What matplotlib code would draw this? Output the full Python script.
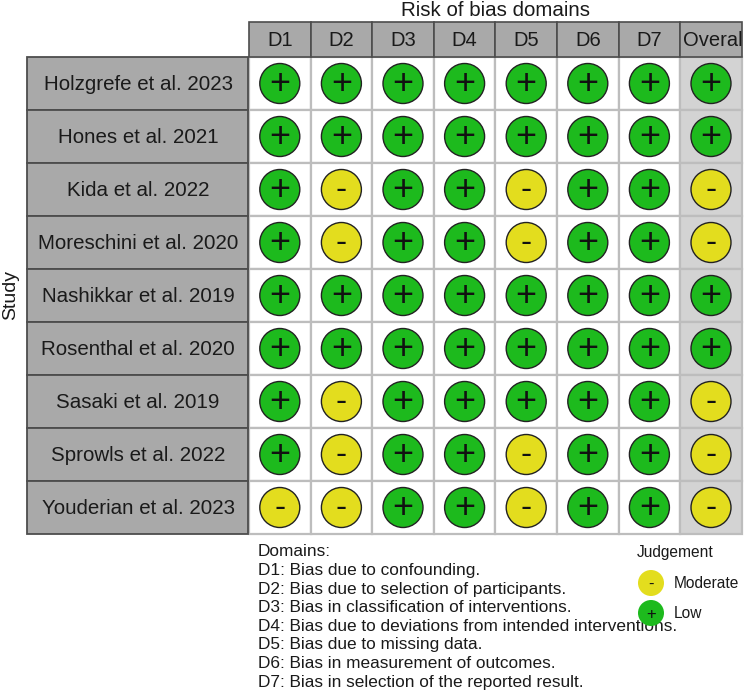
import matplotlib
matplotlib.use("Agg")
import matplotlib.pyplot as plt
from matplotlib.patches import Rectangle, Circle

plt.rcParams['font.family'] = ['Liberation Sans', 'DejaVu Sans']

# ---------------- data ----------------
studies = ["Holzgrefe et al. 2023", "Hones et al. 2021", "Kida et al. 2022",
           "Moreschini et al. 2020", "Nashikkar et al. 2019", "Rosenthal et al. 2020",
           "Sasaki et al. 2019", "Sprowls et al. 2022", "Youderian et al. 2023"]
domains = ["D1", "D2", "D3", "D4", "D5", "D6", "D7", "Overall"]
# L = Low, M = Moderate
judgements = [
    ["L", "L", "L", "L", "L", "L", "L", "L"],
    ["L", "L", "L", "L", "L", "L", "L", "L"],
    ["L", "M", "L", "L", "M", "L", "L", "M"],
    ["L", "M", "L", "L", "M", "L", "L", "M"],
    ["L", "L", "L", "L", "L", "L", "L", "L"],
    ["L", "L", "L", "L", "L", "L", "L", "L"],
    ["L", "M", "L", "L", "L", "L", "L", "M"],
    ["L", "M", "L", "L", "M", "L", "L", "M"],
    ["M", "M", "L", "L", "M", "L", "L", "M"],
]
domain_desc = ["Domains:",
               "D1: Bias due to confounding.",
               "D2: Bias due to selection of participants.",
               "D3: Bias in classification of interventions.",
               "D4: Bias due to deviations from intended interventions.",
               "D5: Bias due to missing data.",
               "D6: Bias in measurement of outcomes.",
               "D7: Bias in selection of the reported result."]
legend_levels = ["M", "L"]
legend_names = {"M": "Moderate", "L": "Low"}
colors = {"L": "#1DBA1D", "M": "#E3DD1E"}
symbols = {"L": "+", "M": "-"}

# ---------------- layout ----------------
W, H = 744, 692
fig = plt.figure(figsize=(W / 100, H / 100), dpi=100)
ax = fig.add_axes([0, 0, 1, 1])
ax.set_xlim(0, W)
ax.set_ylim(H, 0)
ax.set_aspect('equal')
ax.axis('off')

gx0, colw = 249.0, 61.6
gy0, rowh = 57.0, 53.0
hy0 = 22.0
lab_x0 = 27.0

# header
for j, d in enumerate(domains):
    x = gx0 + j * colw
    r = Rectangle((x, hy0), colw, gy0 - hy0, facecolor="#A9A9A9",
                  edgecolor="#4D4D4D", lw=1.2, zorder=2)
    ax.add_patch(r)
    cx = x + colw / 2
    if d == "Overall":
        t = ax.text(cx + 4, (hy0 + gy0) / 2 + 1, d, ha="center", va="center",
                    fontsize=14.5, color="#1a1a1a", zorder=3)
        t.set_clip_path(r)
    else:
        ax.text(cx, (hy0 + gy0) / 2 + 1, d, ha="center", va="center",
                fontsize=14.5, color="#1a1a1a", zorder=3)

ax.text(gx0 + 4 * colw, 11, "Risk of bias domains", ha="center", va="center",
        fontsize=14.8, color="#1a1a1a")

# study label boxes and cells
for i, s in enumerate(studies):
    y = gy0 + i * rowh
    ax.add_patch(Rectangle((lab_x0, y), gx0 - lab_x0 - 1, rowh, facecolor="#A9A9A9",
                           edgecolor="#4D4D4D", lw=1.3, zorder=2))
    ax.text((lab_x0 + gx0) / 2, y + rowh / 2 + 1, s, ha="center", va="center",
            fontsize=14.8, color="#1a1a1a", zorder=3)
    for j, d in enumerate(domains):
        x = gx0 + j * colw
        fc = "#D3D3D3" if d == "Overall" else "white"
        ax.add_patch(Rectangle((x, y), colw, rowh, facecolor=fc,
                               edgecolor="#BDBDBD", lw=1.6, zorder=1))
        v = judgements[i][j]
        cx, cy = x + colw / 2, y + rowh / 2
        ax.add_patch(Circle((cx, cy), 20, facecolor=colors[v], edgecolor="#222222",
                            lw=1.0, zorder=4))
        ax.text(cx, cy + 1, symbols[v], ha="center", va="center",
                fontsize=26 if v == "L" else 24, color="#111111", zorder=5)

ax.text(11, gy0 + len(studies) * rowh / 2, "Study", rotation=90, ha="center",
        va="center", fontsize=14, color="#1a1a1a")

# domain descriptions
for k, line in enumerate(domain_desc):
    ax.text(258, 552 + 18.6 * k, line, ha="left", va="center", fontsize=12.4,
            color="#1a1a1a")

# judgement legend
ax.text(675, 552, "Judgement", ha="center", va="center", fontsize=11.2,
        color="#1a1a1a")
for k, lv in enumerate(legend_levels):
    cy = 583 + 30 * k
    ax.add_patch(Circle((651, cy), 13, facecolor=colors[lv], edgecolor="none", zorder=3))
    ax.text(651, cy + 1, symbols[lv], ha="center", va="center", fontsize=12,
            color="#111111", zorder=6)
    ax.text(674, cy, legend_names[lv], ha="left", va="center", fontsize=11.2,
            color="#1a1a1a", zorder=2)

fig.savefig("out.png", dpi=100)
